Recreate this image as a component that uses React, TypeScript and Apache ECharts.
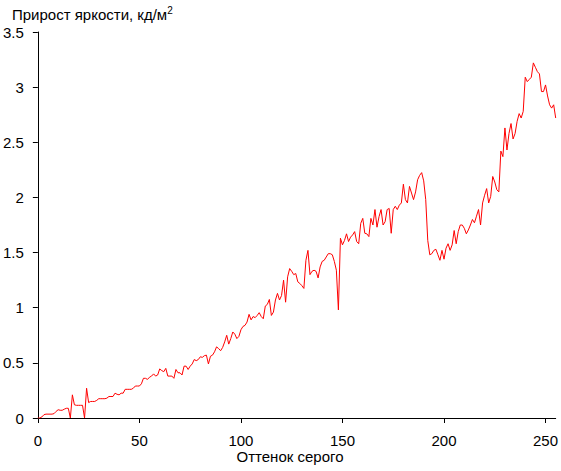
import React, { useEffect, useRef } from "react";
import * as echarts from "echarts";

const grayLevels: number[] = Array.from({ length: 256 }, (_, i) => i);

const brightnessGain: number[] = [
  0, 0, 0.01, 0.03, 0.035, 0.035, 0.035, 0.035, 0.04, 0.06,
  0.075, 0.07, 0.07, 0.08, 0.088, 0.088, 0, 0.21, 0.12, 0.115,
  0.115, 0.115, 0.115, 0, 0.27, 0.14, 0.15, 0.15, 0.15, 0.16,
  0.175, 0.175, 0.175, 0.175, 0.18, 0.195, 0.195, 0.195, 0.225, 0.215,
  0.21, 0.225, 0.225, 0.26, 0.26, 0.26, 0.26, 0.27, 0.29, 0.29,
  0.29, 0.31, 0.36, 0.36, 0.35, 0.37, 0.38, 0.4, 0.38, 0.39,
  0.445, 0.43, 0.42, 0.45, 0.38, 0.38, 0.38, 0.36, 0.44, 0.41,
  0.41, 0.39, 0.47, 0.47, 0.44, 0.47, 0.49, 0.53, 0.52, 0.53,
  0.555, 0.55, 0.565, 0.57, 0.49, 0.56, 0.57, 0.6, 0.645, 0.63,
  0.61, 0.64, 0.69, 0.75, 0.67, 0.72, 0.78, 0.76, 0.72, 0.74,
  0.8, 0.83, 0.84, 0.87, 0.94, 0.89, 0.92, 0.91, 0.93, 0.955,
  0.92, 0.9, 1.015, 1.03, 1.075, 0.93, 0.96, 1.07, 1.13, 1.07,
  1.11, 1.25, 1.05, 1.28, 1.355, 1.33, 1.3, 1.31, 1.235, 1.22,
  1.2, 1.175, 1.43, 1.52, 1.3, 1.33, 1.34, 1.33, 1.27, 1.37,
  1.42, 1.43, 1.46, 1.49, 1.49, 1.48, 1.42, 1.34, 0.98, 1.63,
  1.57, 1.61, 1.67, 1.6, 1.64, 1.66, 1.69, 1.6, 1.58, 1.765,
  1.81, 1.675, 1.67, 1.645, 1.81, 1.75, 1.89, 1.73, 1.825, 1.89,
  1.75, 1.78, 1.89, 1.9, 1.675, 1.89, 1.92, 1.89, 1.93, 1.95,
  2.12, 1.98, 1.95, 2.1, 2.04, 1.98, 2.05, 2.16, 2.2, 2.225,
  2.15, 1.98, 1.61, 1.48, 1.49, 1.52, 1.53, 1.48, 1.43, 1.52,
  1.44, 1.54, 1.58, 1.52, 1.57, 1.7, 1.58, 1.69, 1.75, 1.75,
  1.72, 1.67, 1.705, 1.75, 1.8, 1.77, 1.83, 1.89, 1.75, 1.95,
  2.02, 2.08, 1.95, 2.01, 2.19, 2.14, 2.07, 2.05, 2.42, 2.37,
  2.63, 2.43, 2.58, 2.67, 2.53, 2.58, 2.69, 2.76, 2.72, 2.78,
  3.09, 3.05, 3.07, 3.09, 3.22, 3.18, 3.14, 3.12, 2.96, 2.96,
  3.02, 2.92, 2.84, 2.81, 2.84, 2.72,
];

const titleText = "Прирост яркости, кд/м";
const titleSup = "2";
const xAxisName = "Оттенок серого";

const FONT = "'Liberation Sans', Arial, sans-serif";

export default function App() {
  const ref = useRef<HTMLDivElement>(null);
  useEffect(() => {
    if (!ref.current) return;
    const chart = echarts.init(ref.current, undefined, { renderer: "svg" });
    chart.setOption({
      animation: false,
      backgroundColor: "#ffffff",
      textStyle: { fontFamily: FONT },
      title: {
        text: `{a|${titleText}}{b|${titleSup}}`,
        left: 12,
        top: 5,
        padding: 0,
        textStyle: {
          fontWeight: "normal",
          rich: {
            a: { fontFamily: FONT, fontSize: 15, fontWeight: "normal", color: "#000", lineHeight: 17, verticalAlign: "bottom" },
            b: { fontFamily: FONT, fontSize: 10, fontWeight: "normal", color: "#000", lineHeight: 10, verticalAlign: "top" },
          },
        },
      },
      grid: { left: 35, right: 3, top: 32, bottom: 53, containLabel: false },
      xAxis: {
        type: "value",
        min: 0,
        max: 255,
        interval: 50,
        axisLine: { show: true, onZero: false, lineStyle: { color: "#000", width: 1 } },
        axisTick: { show: true, length: 5, lineStyle: { color: "#000" } },
        axisLabel: { color: "#000", fontSize: 15, lineHeight: 13, fontFamily: FONT, margin: 15.5 },
        splitLine: { show: false },
      },
      yAxis: {
        type: "value",
        min: 0,
        max: 3.5,
        interval: 0.5,
        axisLine: { show: true, lineStyle: { color: "#000", width: 1 } },
        axisTick: { show: true, length: 5, lineStyle: { color: "#000" } },
        axisLabel: { color: "#000", fontSize: 15, lineHeight: 13, fontFamily: FONT, margin: 14 },
        splitLine: { show: false },
      },
      graphic: [
        {
          type: "text",
          x: 290,
          y: 450,
          style: {
            text: xAxisName,
            fill: "#000",
            font: `15px ${FONT}`,
            lineHeight: 12,
            textAlign: "center",
            textVerticalAlign: "top",
          },
        },
      ],
      series: [
        {
          type: "line",
          data: grayLevels.map((g, i) => [g, brightnessGain[i]]),
          showSymbol: false,
          symbol: "none",
          lineStyle: { color: "#ff0000", width: 1 },
        },
      ],
    });
    return () => chart.dispose();
  }, []);
  return (
    <div
      ref={ref}
      style={{ position: "absolute", left: 0, top: 0, width: 561, height: 471 }}
    />
  );
}
